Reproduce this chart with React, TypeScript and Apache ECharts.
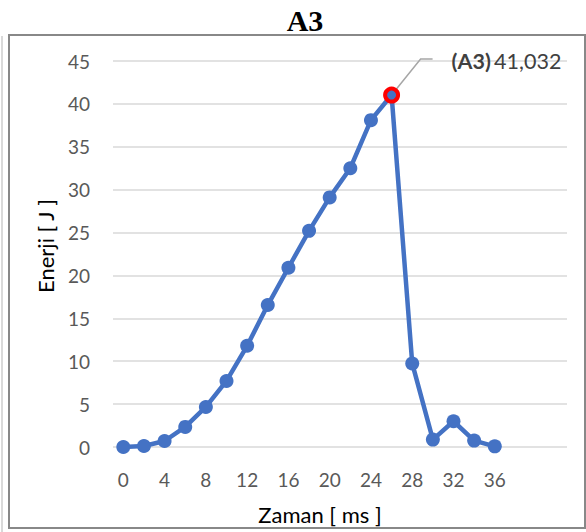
import React, { useEffect, useRef } from "react";
import * as echarts from "echarts";

const chartTitle = "A3";
const xAxisTitle = "Zaman [ ms ]";
const yAxisTitle = "Enerji [ J ]";
const seriesName = "A3";

const timeMs = [0, 2, 4, 6, 8, 10, 12, 14, 16, 18, 20, 22, 24, 26, 28, 30, 32, 34, 36];
const energyJ = [0, 0.12, 0.7, 2.34, 4.67, 7.7, 11.8, 16.55, 20.9, 25.2, 29.1, 32.5, 38.1, 41.032, 9.74, 0.86, 3.0, 0.75, 0.08];
const emptyTrailingCategories = ["", "", ""];
const categories = [...timeMs.map(String), ...emptyTrailingCategories];

const yMin = 0;
const yMax = 45;
const yStep = 5;

const FONT = "Lato, 'Open Sans', sans-serif";
const BLUE = "#4472C4";

export default function App() {
  const ref = useRef<HTMLDivElement>(null);

  useEffect(() => {
    document.body.style.margin = "0";
    if (!ref.current) return;
    const chart = echarts.init(ref.current, null, { renderer: "svg" });

    const peakIdx = energyJ.indexOf(Math.max(...energyJ));
    const peakVal = energyJ[peakIdx];

    const data = energyJ.map((v, i) =>
      i === peakIdx
        ? {
            value: v,
            symbolSize: 13,
            itemStyle: { color: BLUE, borderColor: "#FF0000", borderWidth: 4 },
          }
        : v
    );

    chart.setOption({
      animation: false,
      backgroundColor: "#ffffff",
      title: {
        text: chartTitle,
        left: 300,
        top: 0,
        textAlign: "center",
        textStyle: {
          fontFamily: "'Liberation Serif', 'Times New Roman', serif",
          fontWeight: "bold",
          fontSize: 30,
          color: "#000",
        },
      },
      grid: { left: 113, right: 19, top: 61, bottom: 85 },
      xAxis: {
        type: "category",
        data: categories,
        boundaryGap: true,
        axisLine: { show: false },
        axisTick: { show: false },
        splitLine: { show: false },
        axisLabel: {
          interval: 1,
          margin: 23,
          fontFamily: FONT,
          fontSize: 19,
          color: "#595959",
        },
      },
      yAxis: {
        type: "value",
        min: yMin,
        max: yMax,
        interval: yStep,
        axisLine: { show: false },
        axisTick: { show: false },
        splitLine: { lineStyle: { color: "#D9D9D9", width: 1.5 } },
        axisLabel: {
          margin: 23,
          fontFamily: FONT,
          fontSize: 19,
          color: "#595959",
        },
      },
      series: [
        {
          name: seriesName,
          type: "line",
          data,
          symbol: "circle",
          symbolSize: 14,
          showAllSymbol: true,
          lineStyle: { color: BLUE, width: 4.5 },
          itemStyle: { color: BLUE },
        },
      ],
    });

    const [px, py] = chart.convertToPixel({ xAxisIndex: 0, yAxisIndex: 0 }, [peakIdx, peakVal]) as number[];
    const labelText = peakVal.toFixed(3).replace(".", ",");

    chart.setOption({
      graphic: [
        {
          type: "rect",
          shape: { x: 9, y: 35, width: 576, height: 493 },
          style: { fill: "none", stroke: "#888888", lineWidth: 2 },
          silent: true,
        },
        {
          type: "line",
          shape: { x1: 2, y1: 36, x2: 2, y2: 532 },
          style: { stroke: "#CCCCCC", lineWidth: 1.5 },
          silent: true,
        },
        {
          type: "text",
          x: 320,
          y: 514,
          style: {
            text: xAxisTitle,
            fontFamily: FONT,
            fontSize: 22,
            fill: "#000",
            align: "center",
            verticalAlign: "middle",
          },
        },
        {
          type: "text",
          x: 45,
          y: 246,
          rotation: Math.PI / 2,
          style: {
            text: yAxisTitle,
            fontFamily: FONT,
            fontSize: 22,
            fill: "#000",
            align: "center",
            verticalAlign: "middle",
          },
        },
        {
          type: "polyline",
          shape: { points: [[px, py], [px + 29, py - 36], [px + 41, py - 36]] },
          style: { stroke: "#A6A6A6", lineWidth: 1.5, fill: "none" },
          silent: true,
          z: 1,
        },
        {
          type: "text",
          x: px + 60,
          y: py - 34,
          style: {
            text: `{b|(${seriesName})} {n|${labelText}}`,
            verticalAlign: "middle",
            align: "left",
            rich: {
              b: { fontFamily: FONT, fontSize: 21.5, fontWeight: "bold", fill: "#404040", color: "#404040" },
              n: { fontFamily: FONT, fontSize: 21.5, fill: "#404040", color: "#404040" },
            },
          },
        },
      ],
    });

    return () => chart.dispose();
  }, []);

  return <div ref={ref} style={{ width: 586, height: 532 }} />;
}
